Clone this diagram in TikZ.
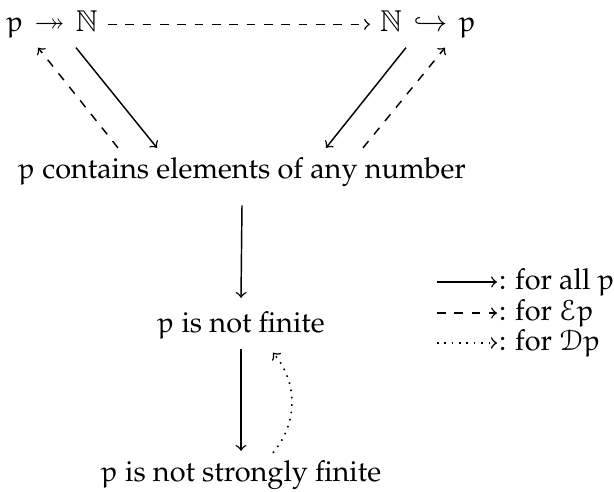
\documentclass[tikz,border=0pt]{standalone}
\usepackage[T1]{fontenc}
\usepackage{mathpazo}
\usepackage{amssymb}
\DeclareMathAlphabet{\eulerrm}{U}{eur}{m}{n}
\DeclareMathAlphabet{\eulerscr}{U}{eus}{m}{n}
\DeclareMathAlphabet{\dblstruck}{U}{msb}{m}{n}
\newcommand{\ppp}{\ensuremath{\eulerrm{p}}}
\usetikzlibrary{calc}
\tikzset{
  stmt/.style={anchor=base},
  legtext/.style={anchor=west, inner sep=0.5pt},
  impl/.style={->, line width=0.5pt},
  implE/.style={->, dashed, line width=0.5pt},
  implD/.style={->, dotted, line width=0.55pt},
}
\begin{document}
\begin{tikzpicture}[x=0.346pt, y=-0.346pt]
\useasboundingbox (0,0) rectangle (614,492);
% statements
\node[stmt] (A) at (52,32) {$\ppp\mathrel{\mkern2mu\twoheadrightarrow\mkern2mu}\dblstruck{N}$};
\node[stmt] (B) at (428,32) {$\dblstruck{N}\mathrel{\mkern2mu\hookrightarrow\mkern2mu}\ppp$};
\node[stmt] (C) at (242,179) {\ppp{} contains elements of any number};
\node[stmt] (D) at (241,333) {\ppp{} is not finite};
\node[stmt] (E) at (241,482) {\ppp{} is not strongly finite};
% implications
\draw[implE] (A.east) -- (B.west);
\draw[impl] ($(A.south)+(24,0)$) -- ($(C.north)+(-85,0)$);
\draw[implE] ($(C.north)+(-124,0)$) -- ($(A.south)+(-14,0)$);
\draw[impl] ($(B.south)+(-22,0)$) -- ($(C.north)+(84,0)$);
\draw[implE] ($(C.north)+(121,0)$) -- ($(B.south)+(17,0)$);
\draw[impl] ($(C.south)+(0,8)$) -- ($(D.north)+(0,-4)$);
\draw[impl] (D.south) -- (E.north);
\draw[implD] ($(E.north)+(32,2)$) to[bend right=40] ($(D.south)+(32,4)$);
% legend
\coordinate (l1) at (437,282);
\coordinate (l2) at (437,313);
\coordinate (l3) at (437,343);
\node[legtext] (L1) at (497,282) {: for all \ppp};
\node[legtext] (L2) at (497,313) {: for $\eulerscr{E}\ppp$};
\node[legtext] (L3) at (497,343) {: for $\eulerscr{D}\ppp$};
\draw[impl] (l1) -- (L1.west);
\draw[implE] (l2) -- (L2.west);
\draw[implD] (l3) -- (L3.west);
\end{tikzpicture}
\end{document}
